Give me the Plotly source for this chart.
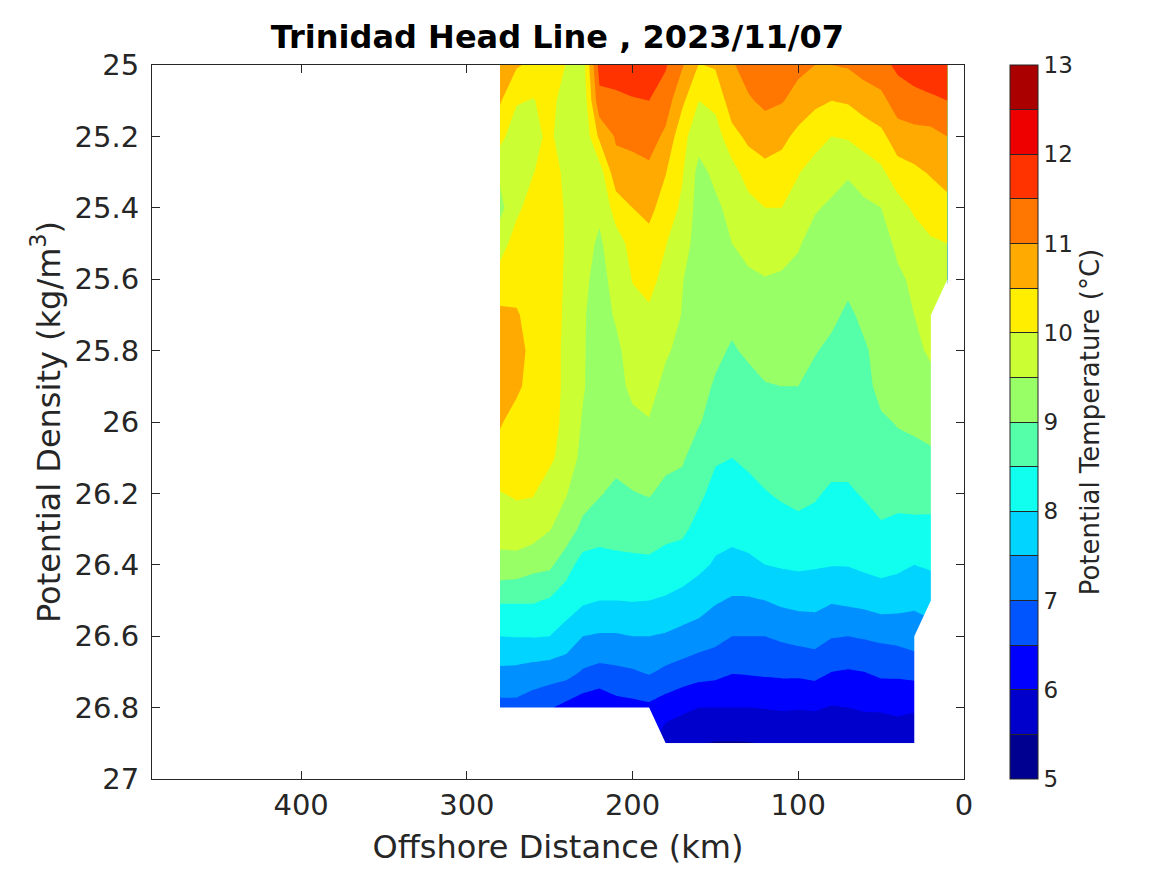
import plotly.graph_objects as go

# offshore distance (km) and potential density grid
distance = [280, 270, 260, 250, 240, 230, 220, 210, 200, 190, 180, 170, 160, 150,
            140, 130, 120, 110, 100, 90, 80, 70, 60, 50, 40, 30, 20, 10]
density = [25.0, 25.1, 25.2, 25.3, 25.4, 25.5, 25.6, 25.7, 25.8, 25.9,
           26.0, 26.1, 26.2, 26.3, 26.4, 26.5, 26.6, 26.7, 26.8, 26.9]

# potential temperature at each station, top to bottom
t280 = [10.8, 10.55, 10.15, 9.6, 9.35, 9.8, 10.2, 10.6, 10.8, 10.8, 10.55, 10.3, 9.98, 9.7, 9.35, 8.55, 8.0, 7.4, 6.85, None]
t270 = [10.55, 10.05, 9.7, 9.75, 9.9, 10.2, 10.3, 10.55, 10.8, 10.6, 10.3, 10.2, 10.05, 9.8, 9.3, 8.55, 8.02, 7.38, 6.85, None]
t260 = [10.4, 9.97, 9.8, 9.98, 10.2, 10.3, 10.35, 10.3, 10.25, 10.3, 10.25, 10.2, 10.03, 9.75, 9.15, 8.55, 8.03, 7.3, 6.7, None]
t250 = [10.3, 10.2, 10.15, 10.2, 10.25, 10.25, 10.2, 10.2, 10.2, 10.2, 10.1, 10.1, 9.75, 9.52, 9.1, 8.45, 8.0, 7.25, 6.55, None]
t240 = [9.98, 9.72, 9.55, 9.9, 9.95, 9.96, 9.95, 9.93, 9.9, 9.9, 9.93, 9.78, 9.52, 9.3, 8.7, 8.25, 7.8, 7.2, 6.35, None]
t230 = [9.75, 9.6, 9.55, 9.6, 9.75, 9.7, 9.6, 9.55, 9.55, 9.55, 9.45, 9.36, 9.25, 8.85, 8.3, 8.08, 7.5, 6.95, 6.2, None]
t220 = [11.7, 11.35, 10.6, 9.75, 9.6, 9.42, 9.35, 9.3, 9.25, 9.2, 9.2, 9.15, 9.05, 8.65, 8.35, 8.0, 7.45, 6.85, 6.1, None]
t210 = [11.8, 11.37, 11.05, 10.85, 10.2, 9.8, 9.65, 9.55, 9.4, 9.35, 9.2, 9.2, 8.85, 8.65, 8.4, 8.0, 7.45, 6.9, 6.3, None]
t200 = [11.9, 11.45, 11.15, 10.8, 10.5, 10.15, 10.02, 9.85, 9.7, 9.6, 9.4, 9.2, 8.98, 8.7, 8.4, 8.02, 7.5, 6.95, 6.35, None]
t190 = [11.8, 11.5, 11.2, 10.9, 10.62, 10.35, 10.15, 9.92, 9.8, 9.7, 9.47, 9.2, 9.03, 8.75, 8.4, 8.0, 7.5, 7.05, 6.4, None]
t180 = [11.55, 11.25, 10.9, 10.52, 10.3, 10.02, 9.85, 9.75, 9.57, 9.35, 9.25, 9.1, 8.9, 8.65, 8.3, 7.95, 7.45, 6.9, 6.25, 5.65]
t170 = [11.05, 10.6, 10.15, 10.05, 9.9, 9.7, 9.52, 9.48, 9.35, 9.25, 9.2, 9.05, 8.85, 8.6, 8.25, 7.85, 7.35, 6.8, 6.1, 5.6]
t160 = [10.48, 10.0, 9.7, 9.35, 9.3, 9.3, 9.28, 9.25, 9.2, 9.15, 9.03, 8.8, 8.6, 8.35, 8.1, 7.75, 7.25, 6.7, 6.0, 5.52]
t150 = [10.55, 10.15, 9.75, 9.62, 9.4, 9.3, 9.22, 9.2, 9.1, 8.95, 8.85, 8.55, 8.35, 8.15, 7.95, 7.55, 7.15, 6.65, 6.0, 5.47]
t140 = [10.95, 10.75, 10.35, 9.8, 9.65, 9.5, 9.25, 9.12, 8.95, 8.85, 8.75, 8.5, 8.3, 8.15, 7.85, 7.45, 7.0, 6.53, 6.0, 5.47]
t130 = [11.2, 10.95, 10.6, 10.25, 9.8, 9.65, 9.42, 9.3, 9.08, 8.85, 8.7, 8.6, 8.35, 8.2, 7.9, 7.45, 7.0, 6.55, 6.0, 5.48]
t120 = [11.3, 11.1, 10.75, 10.35, 10.0, 9.75, 9.48, 9.35, 9.2, 8.97, 8.8, 8.65, 8.48, 8.25, 8.0, 7.5, 7.0, 6.58, 6.02, 5.52]
t110 = [11.3, 11.03, 10.65, 10.25, 10.0, 9.75, 9.42, 9.3, 9.15, 9.0, 8.85, 8.7, 8.55, 8.35, 8.05, 7.6, 7.08, 6.6, 6.05, 5.55]
t100 = [11.1, 10.85, 10.35, 10.03, 9.8, 9.55, 9.35, 9.25, 9.15, 9.0, 8.85, 8.7, 8.6, 8.4, 8.08, 7.65, 7.15, 6.6, 6.03, 5.55]
t90 = [11.0, 10.6, 10.2, 9.8, 9.55, 9.3, 9.2, 9.15, 9.03, 8.85, 8.75, 8.65, 8.55, 8.35, 8.05, 7.65, 7.2, 6.65, 6.05, 5.58]
t80 = [11.0, 10.5, 10.0, 9.7, 9.42, 9.3, 9.2, 9.1, 8.9, 8.8, 8.75, 8.65, 8.43, 8.25, 8.02, 7.55, 7.03, 6.5, 5.97, 5.58]
t70 = [11.05, 10.55, 10.05, 9.55, 9.3, 9.2, 9.12, 8.92, 8.8, 8.75, 8.72, 8.65, 8.43, 8.25, 8.02, 7.6, 7.0, 6.46, 6.0, 5.6]
t60 = [11.2, 10.75, 10.2, 9.75, 9.4, 9.25, 9.15, 9.1, 8.95, 8.85, 8.8, 8.75, 8.55, 8.3, 8.1, 7.65, 7.05, 6.5, 6.05, 5.65]
t50 = [11.35, 10.85, 10.38, 9.9, 9.5, 9.25, 9.2, 9.18, 9.15, 9.15, 8.93, 8.75, 8.65, 8.45, 8.15, 7.75, 7.1, 6.6, 6.05, 5.7]
t40 = [11.6, 11.25, 10.75, 10.3, 9.8, 9.62, 9.4, 9.35, 9.3, 9.25, 9.03, 8.85, 8.6, 8.42, 8.1, 7.7, 7.15, 6.6, 6.08, 5.75]
t30 = [11.8, 11.3, 10.85, 10.4, 10.08, 9.75, 9.6, 9.5, 9.35, 9.2, 9.1, 8.85, 8.72, 8.35, 8.0, 7.6, 7.25, 6.65, 6.05, 5.7]
t20 = [11.9, 11.4, 10.85, 10.55, 10.2, 9.95, 9.75, 9.7, 9.6, 9.3, 9.1, 8.95, 8.75, 8.32, 8.05, 7.75, None, None, None, None]
t10 = [11.95, 11.5, 11.0, 10.7, 10.35, 10.0, 9.8, None, None, None, None, None, None, None, None, None, None, None, None, None]

columns = [t280, t270, t260, t250, t240, t230, t220, t210, t200, t190, t180, t170, t160, t150,
           t140, t130, t120, t110, t100, t90, t80, t70, t60, t50, t40, t30, t20, t10]

# one colour per half degree band, 5 to 13
band_colors = ['#000090', '#0000cc', '#0000ff', '#0055ff', '#0090ff', '#00d4ff', '#11ffee', '#55ffaa',
               '#99ff66', '#ccff33', '#ffee00', '#ffaa00', '#ff7700', '#ff3300', '#ee0000', '#aa0000']

x_ticks = [400, 300, 200, 100, 0]
y_ticks = [25, 25.2, 25.4, 25.6, 25.8, 26, 26.2, 26.4, 26.6, 26.8, 27]
cbar_ticks = [5 + 0.5 * i for i in range(17)]
cbar_text = [str(int(v)) if v == int(v) else '' for v in cbar_ticks]

dark = '#262626'
n = len(band_colors)
scale = []
for i, c in enumerate(band_colors):
    scale.append([i / n, c])
    scale.append([(i + 1) / n, c])

z = [[col[j] for col in columns] for j in range(len(density))]

# plotly's gap mask overshoots the last good row a little, so trim it
# with a white patch that follows the last good value of each station
last_good = [max(j for j, v in enumerate(col) if v is not None) for col in columns]
edge_x = [distance[0]]
edge_y = [27]
for i, j in enumerate(last_good):
    if i > 0 and j < last_good[i - 1] - 1:
        edge_x.append(distance[i - 1])
        edge_y.append(density[j + 1])
    edge_x.append(distance[i])
    edge_y.append(density[j])
edge_x.append(distance[-1])
edge_y.append(27)

fig = go.Figure(go.Contour(
    x=distance, y=density, z=z,
    zmin=5, zmax=13, colorscale=scale,
    connectgaps=False,
    contours=dict(start=5, end=13, size=0.5, coloring='fill', showlines=False),
    line=dict(width=0, smoothing=0),
    hoverinfo='skip',
    colorbar=dict(
        thickness=28, thicknessmode='pixels', len=1, lenmode='fraction', y=0.5, yanchor='middle',
        x=1.0566, xanchor='left', xpad=0, ypad=0,
        outlinecolor=dark, outlinewidth=1,
        tickmode='array', tickvals=cbar_ticks, ticktext=cbar_text,
        ticks='inside', ticklen=28, tickwidth=1, tickcolor=dark,
        tickfont=dict(size=23, color=dark),
        title=dict(text='Potential Temperature (°C)', side='right', font=dict(size=26, color=dark)),
    ),
))
fig.add_trace(go.Scatter(x=edge_x, y=edge_y, mode='lines', fill='toself', fillcolor='white',
                         line=dict(width=0), showlegend=False, hoverinfo='skip'))

fig.update_xaxes(range=[490, 0], tickmode='array', tickvals=x_ticks, ticks='inside', ticklen=8,
                 tickcolor=dark, tickwidth=1, showline=True, linecolor=dark, linewidth=1, mirror='ticks',
                 showgrid=False, zeroline=False, tickfont=dict(size=29, color=dark),
                 title=dict(text='Offshore Distance (km)', font=dict(size=32, color=dark), standoff=14))
fig.update_yaxes(range=[27, 25], tickmode='array', tickvals=y_ticks, ticks='inside', ticklen=8,
                 tickcolor=dark, tickwidth=1, showline=True, linecolor=dark, linewidth=1, mirror='ticks',
                 showgrid=False, zeroline=False, tickfont=dict(size=29, color=dark), ticklabelstandoff=6,
                 title=dict(text='Potential Density (kg/m<sup>3</sup>)', font=dict(size=32, color=dark), standoff=4))

# the page body adds 8px on each side, so the figure is 16px smaller than the window
fig.update_layout(
    width=1151, height=859,
    margin=dict(l=144, r=195, t=57, b=88, autoexpand=False),
    paper_bgcolor='white', plot_bgcolor='white',
    font=dict(family='DejaVu Sans', color=dark),
    title=dict(text='<b>Trinidad Head Line , 2023/11/07</b>', x=0.4773, xanchor='center',
               y=0.979, yanchor='top', font=dict(size=32, color='black')),
)

fig.write_html("out.html")
